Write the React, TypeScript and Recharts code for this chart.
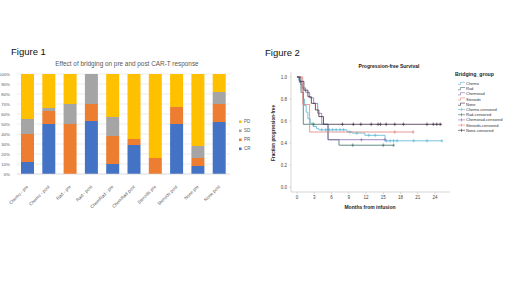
import React from 'react';
import { BarChart, Bar, XAxis, YAxis, CartesianGrid, ComposedChart, Line, Scatter } from 'recharts';

// ---------- Figure 1 data ----------
const categories = ['Chemo - pre', 'Chemo - post', 'Rad - pre', 'Rad - post', 'ChemRad - pre', 'ChemRad post', 'Steroids pre', 'Steroids post', 'None pre', 'None post'];
const crValues = [12, 50, 0, 53, 10, 29, 0, 50, 8, 52];
const prValues = [28, 13, 50, 17, 28, 6, 16, 17, 8, 18];
const sdValues = [15, 3, 20, 30, 19, 0, 0, 0, 12, 12];
const pdValues = [45, 34, 30, 0, 43, 65, 84, 33, 72, 18];
const pctTicks = [0, 10, 20, 30, 40, 50, 60, 70, 80, 90, 100];
const responseLegend = ['PD', 'SD', 'PR', 'CR'];

// ---------- Figure 2 data ----------
const chemoCurve = [
  { t: 0, s: 1 }, { t: 0.3, s: 0.97 }, { t: 0.6, s: 0.93 }, { t: 0.9, s: 0.88 }, { t: 1.1, s: 0.8 },
  { t: 1.3, s: 0.74 }, { t: 1.6, s: 0.68 }, { t: 1.9, s: 0.62 }, { t: 2.3, s: 0.58 }, { t: 2.8, s: 0.55 },
  { t: 3.4, s: 0.53 }, { t: 3.8, s: 0.52 }, { t: 8.7, s: 0.5 }, { t: 9.6, s: 0.49 }, { t: 11.8, s: 0.47 },
  { t: 15.3, s: 0.42 }, { t: 25.2, s: 0.42 },
];
const chemoCensored = [
  { t: 4.3, s: 0.52 }, { t: 5, s: 0.52 }, { t: 5.6, s: 0.52 }, { t: 6.2, s: 0.52 }, { t: 6.8, s: 0.52 },
  { t: 7.5, s: 0.52 }, { t: 8.1, s: 0.52 }, { t: 9.2, s: 0.5 }, { t: 10.4, s: 0.49 }, { t: 12.5, s: 0.47 },
  { t: 13.6, s: 0.47 }, { t: 15.6, s: 0.42 }, { t: 16.2, s: 0.42 }, { t: 16.8, s: 0.42 }, { t: 17.4, s: 0.42 },
  { t: 20.3, s: 0.42 }, { t: 22.6, s: 0.42 }, { t: 25.2, s: 0.42 },
];
const radCurve = [
  { t: 0, s: 1 }, { t: 0.7, s: 0.86 }, { t: 1.1, s: 0.57 }, { t: 5.4, s: 0.43 }, { t: 7.3, s: 0.38 }, { t: 16.8, s: 0.38 },
];
const radCensored = [
  { t: 2.9, s: 0.57 }, { t: 9.7, s: 0.38 }, { t: 15, s: 0.38 }, { t: 16.8, s: 0.38 },
];
const chemoradCurve = [
  { t: 0, s: 1 }, { t: 0.4, s: 0.95 }, { t: 0.9, s: 0.9 }, { t: 1.5, s: 0.86 }, { t: 2.2, s: 0.81 },
  { t: 2.9, s: 0.76 }, { t: 3.6, s: 0.67 }, { t: 4.3, s: 0.57 }, { t: 5.4, s: 0.43 }, { t: 15.3, s: 0.43 },
];
const chemoradCensored = [{ t: 11.2, s: 0.43 }, { t: 15.3, s: 0.43 }];
const steroidsCurve = [
  { t: 0, s: 1 }, { t: 1.0, s: 0.75 }, { t: 2.2, s: 0.5 }, { t: 20.2, s: 0.5 },
];
const steroidsCensored = [{ t: 17.0, s: 0.5 }, { t: 20.2, s: 0.5 }];
const noneCurve = [
  { t: 0, s: 1 }, { t: 0.5, s: 0.96 }, { t: 1.2, s: 0.88 }, { t: 1.9, s: 0.82 }, { t: 2.5, s: 0.76 },
  { t: 3.2, s: 0.7 }, { t: 3.8, s: 0.64 }, { t: 4.6, s: 0.57 }, { t: 25.2, s: 0.57 },
];
const noneCensored = [
  { t: 7.9, s: 0.57 }, { t: 9.8, s: 0.57 }, { t: 11.1, s: 0.57 }, { t: 12.9, s: 0.57 }, { t: 14.1, s: 0.57 },
  { t: 14.5, s: 0.57 }, { t: 15.5, s: 0.57 }, { t: 17.0, s: 0.57 }, { t: 18.5, s: 0.57 }, { t: 22.6, s: 0.57 },
  { t: 23.7, s: 0.57 }, { t: 24.3, s: 0.57 }, { t: 24.9, s: 0.57 },
];
const monthTicks = [0, 3, 6, 9, 12, 15, 18, 21, 24];
const fractionTicks = [0, 0.2, 0.4, 0.6, 0.8, 1.0];
const groupNames = ['Chemo', 'Rad', 'Chemorad', 'Steroids', 'None'];

const barColors = { CR: '#4472C4', PR: '#ED7D31', SD: '#A5A5A5', PD: '#FFC000' };
const groupColors = ['#5BB5D5', '#3F7068', '#8A6BB0', '#E3807A', '#3B2E3F'];

const barData = categories.map((name, i) => ({ name, CR: crValues[i], PR: prValues[i], SD: sdValues[i], PD: pdValues[i] }));

const FONT = '"Liberation Sans", Arial, sans-serif';

const RotTick = (props: any) => {
  const { x, y, payload } = props;
  const ax = x + 1;
  const ay = y + 5;
  return (
    <text x={ax} y={ay} transform={`rotate(-45 ${ax} ${ay})`} textAnchor="end" fontSize={4.5} fill="#595959" fontFamily={FONT}>
      {payload.value}
    </text>
  );
};

const censorShape = (color: string) => (props: any) => {
  const { cx, cy } = props;
  if (cx == null || cy == null) return <g />;
  return (
    <g>
      <line x1={cx - 1.4} x2={cx + 1.4} y1={cy} y2={cy} stroke={color} strokeWidth={0.6} />
      <line x1={cx} x2={cx} y1={cy - 1.8} y2={cy + 1.8} stroke={color} strokeWidth={0.6} />
    </g>
  );
};

const curves = [chemoCurve, radCurve, chemoradCurve, steroidsCurve, noneCurve];
const censored = [chemoCensored, radCensored, chemoradCensored, steroidsCensored, noneCensored];

export default function App() {
  return (
    <div style={{ position: 'absolute', left: 0, top: 0, width: 520, height: 292, background: '#fff', fontFamily: FONT, overflow: 'hidden' }}>
      {/* Figure 1 bar chart */}
      <div style={{ position: 'absolute', left: 0, top: 70 }}>
        <BarChart width={240} height={150} data={barData} margin={{ top: 4, right: 10, left: 2, bottom: 0 }}>
          <CartesianGrid vertical={false} stroke="#D9D9D9" strokeWidth={0.5} />
          <XAxis dataKey="name" interval={0} tick={<RotTick />} height={46} axisLine={{ stroke: '#D9D9D9', strokeWidth: 0.6 }} tickLine={false} />
          <YAxis width={15} domain={[0, 100]} ticks={pctTicks} interval={0} tickFormatter={(v: number) => `${v}%`} axisLine={false} tickLine={false} tick={{ fontSize: 4.4, fill: '#595959', fontFamily: FONT }} tickMargin={1} />
          <Bar dataKey="CR" stackId="a" fill={barColors.CR} barSize={13} isAnimationActive={false} />
          <Bar dataKey="PR" stackId="a" fill={barColors.PR} barSize={13} isAnimationActive={false} />
          <Bar dataKey="SD" stackId="a" fill={barColors.SD} barSize={13} isAnimationActive={false} />
          <Bar dataKey="PD" stackId="a" fill={barColors.PD} barSize={13} isAnimationActive={false} />
        </BarChart>
      </div>

      {/* Figure 2 KM chart */}
      <div style={{ position: 'absolute', left: 260, top: 60 }}>
        <ComposedChart width={195} height={150} margin={{ top: 12, right: 5, left: 0, bottom: 0 }}>
          <XAxis type="number" dataKey="t" domain={[-1.04, 26.6]} ticks={monthTicks} interval={0} allowDataOverflow height={18}
            axisLine={{ stroke: '#BDBDBD', strokeWidth: 0.6 }} tickLine={{ stroke: '#BDBDBD', strokeWidth: 0.5 }} tickSize={2}
            tick={{ fontSize: 4.5, fill: '#444', fontFamily: FONT }} />
          <YAxis type="number" dataKey="s" domain={[-0.045, 1.045]} ticks={fractionTicks} interval={0} allowDataOverflow width={31}
            tickFormatter={(v: number) => v.toFixed(1)}
            axisLine={{ stroke: '#BDBDBD', strokeWidth: 0.6 }} tickLine={{ stroke: '#BDBDBD', strokeWidth: 0.5 }} tickSize={2}
            tick={{ fontSize: 4.5, fill: '#444', fontFamily: FONT }} />
          {curves.map((c, i) => (
            <Line key={`l${i}`} data={c} dataKey="s" type="stepAfter" stroke={groupColors[i]} strokeWidth={0.8} dot={false} activeDot={false} isAnimationActive={false} />
          ))}
          {censored.map((c, i) => (
            <Scatter key={`s${i}`} data={c} dataKey="s" fill={groupColors[i]} shape={censorShape(groupColors[i])} isAnimationActive={false} />
          ))}
        </ComposedChart>
      </div>

      {/* Overlay texts and legends */}
      <svg width={520} height={292} style={{ position: 'absolute', left: 0, top: 0, pointerEvents: 'none' }} fontFamily={FONT}>
        <text x={11} y={55} fontSize={9.5} fill="#111">Figure 1</text>
        <text x={127} y={66} fontSize={6.4} fill="#595959" textAnchor="middle">Effect of bridging on pre and post CAR-T response</text>
        {responseLegend.map((k, i) => (
          <g key={k}>
            <rect x={239} y={120.5 + i * 9} width={2.6} height={2.6} fill={(barColors as any)[k]} />
            <text x={244} y={123.2 + i * 9} fontSize={4.5} fill="#595959">{k}</text>
          </g>
        ))}

        <text x={265} y={56} fontSize={9.5} fill="#111">Figure 2</text>
        <text x={389} y={68} fontSize={5} fontWeight="bold" fill="#222" textAnchor="middle">Progression-free Survival</text>
        <text x={275} y={133} fontSize={4.6} fontWeight="bold" fill="#222" textAnchor="middle" transform="rotate(-90 275 133)">Fraction progression-free</text>
        <text x={370} y={209} fontSize={5} fontWeight="bold" fill="#222" textAnchor="middle">Months from infusion</text>

        <text x={455} y={76} fontSize={5.2} fontWeight="bold" fill="#222">Bridging_group</text>
        {groupNames.map((g, i) => (
          <g key={g}>
            <polyline points={`${458},${84.5 + i * 5.2} ${460.5},${84.5 + i * 5.2} ${460.5},${82.3 + i * 5.2} ${465},${82.3 + i * 5.2}`} fill="none" stroke={groupColors[i]} strokeWidth={0.6} />
            <text x={466} y={85 + i * 5.2} fontSize={4} fill="#333">{g}</text>
          </g>
        ))}
        {groupNames.map((g, i) => {
          const yy = 83.5 + (i + 5) * 5.2;
          return (
            <g key={`c${g}`}>
              <line x1={458} x2={465} y1={yy} y2={yy} stroke={groupColors[i]} strokeWidth={0.6} />
              <line x1={461.5} x2={461.5} y1={yy - 1.6} y2={yy + 1.6} stroke={groupColors[i]} strokeWidth={0.6} />
              <text x={466} y={yy + 1.4} fontSize={4} fill="#333">{`${g}-censored`}</text>
            </g>
          );
        })}
      </svg>
    </div>
  );
}
